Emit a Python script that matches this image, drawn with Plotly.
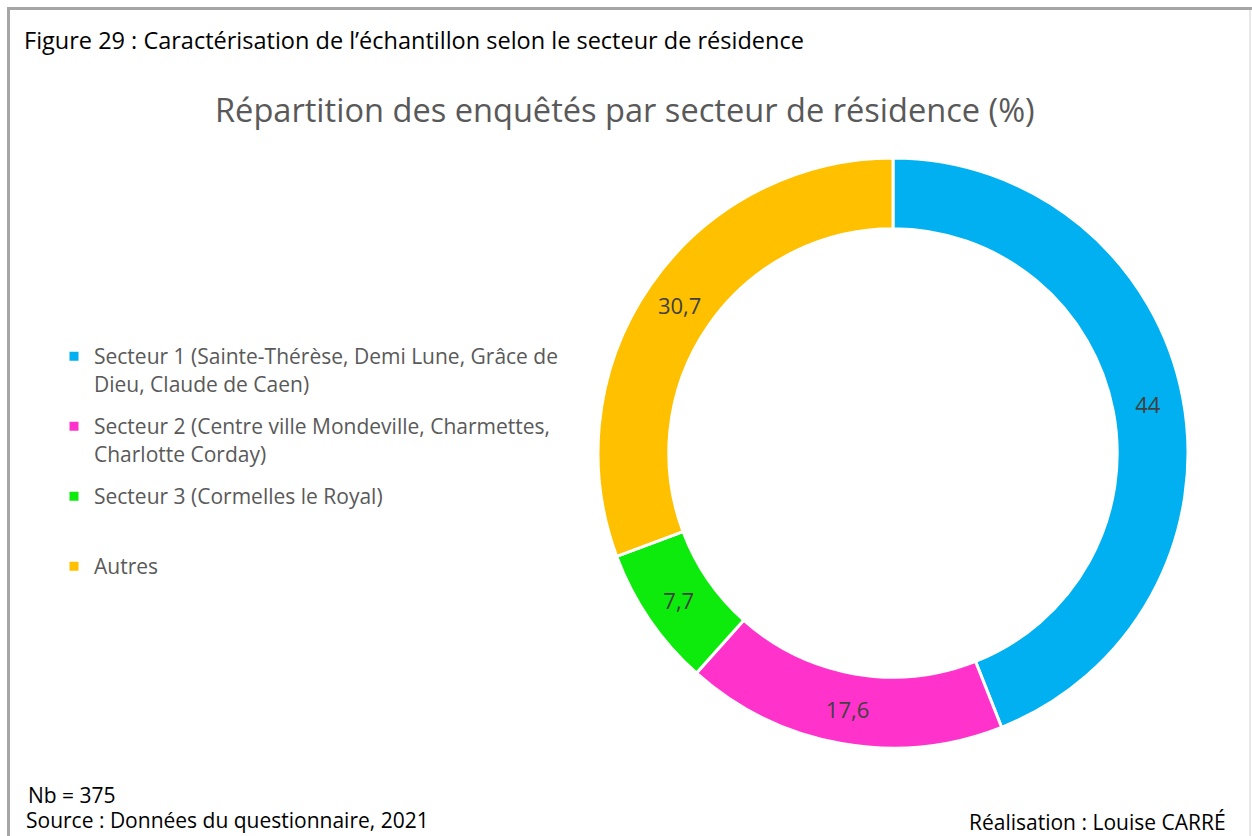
import plotly.graph_objects as go

categories = [
    "Secteur 1 (Sainte-Thérèse, Demi Lune, Grâce de<br>Dieu, Claude de Caen)",
    "Secteur 2 (Centre ville Mondeville, Charmettes,<br>Charlotte Corday)",
    "Secteur 3 (Cormelles le Royal)",
    "Autres",
]
values = [44, 17.6, 7.7, 30.7]
colors = ["#00B0F0", "#FF33CC", "#0DEB0D", "#FFC000"]

W, H = 1252, 836
FONT = "'Open Sans', sans-serif"
LEG_SIZE = 21

# every legend entry uses 2 text lines so the entries are evenly spaced
legend_labels = []
for c in categories:
    lines = c.split("<br>")
    lines += [" "] * (2 - len(lines))
    legend_labels.append("<br>".join(lines))

fig = go.Figure(
    go.Pie(
        labels=legend_labels,
        values=values,
        sort=False,
        direction="clockwise",
        rotation=0,
        hole=0.76,
        marker=dict(colors=colors, line=dict(color="white", width=3)),
        textinfo="value",
        textposition="inside",
        insidetextorientation="horizontal",
        textfont=dict(family=FONT, size=22, color="#404040"),
        domain=dict(x=[598 / W, 1188 / W], y=[1 - 748 / H, 1 - 158 / H]),
        showlegend=True,
        hoverinfo="label+value",
    )
)
# empty, invisible legend spacer: enables per-entry gaps in a "grouped" legend
fig.add_trace(go.Scatter(x=[None], y=[None], mode="markers", name=" ",
                         marker=dict(color="rgba(0,0,0,0)", size=1, opacity=0,
                                     line=dict(width=0, color="rgba(0,0,0,0)")),
                         legendgroup="spacer", showlegend=True, hoverinfo="skip"))

fig.update_layout(
    width=W,
    height=H,
    margin=dict(l=0, r=0, t=0, b=0),
    paper_bgcolor="white",
    plot_bgcolor="white",
    separators=", ",
    font=dict(family=FONT, color="#595959"),
    xaxis=dict(visible=False),
    yaxis=dict(visible=False),
    legend=dict(
        x=54 / W,
        y=1 - 336 / H,
        xanchor="left",
        yanchor="top",
        valign="top",
        traceorder="grouped",
        tracegroupgap=12.4,
        font=dict(family=FONT, size=LEG_SIZE, color="#595959"),
        bgcolor="rgba(0,0,0,0)",
    ),
    shapes=[
        dict(type="line", xref="paper", yref="paper", x0=7 / W, x1=1, y0=1 - 8.5 / H, y1=1 - 8.5 / H,
             line=dict(color="#A6A6A6", width=3)),
        dict(type="line", xref="paper", yref="paper", x0=8.5 / W, x1=8.5 / W, y0=0, y1=1 - 7 / H,
             line=dict(color="#A6A6A6", width=3)),
        dict(type="line", xref="paper", yref="paper", x0=1250 / W, x1=1250 / W, y0=0, y1=1 - 10 / H,
             line=dict(color="#D0D0D0", width=1)),
    ],
    annotations=[
        dict(text="Figure 29 : Caractérisation de l’échantillon selon le secteur de résidence",
             x=22 / W, y=1 - 40 / H, xref="paper", yref="paper", xanchor="left", yanchor="middle",
             showarrow=False, font=dict(family=FONT, size=23.5, color="#000000")),
        dict(text="Répartition des enquêtés par secteur de résidence (%)",
             x=625 / W, y=1 - 110 / H, xref="paper", yref="paper", xanchor="center", yanchor="middle",
             showarrow=False, font=dict(family=FONT, size=32.6, color="#595959")),
        dict(text="Nb = 375",
             x=26 / W, y=1 - 795 / H, xref="paper", yref="paper", xanchor="left", yanchor="middle",
             showarrow=False, font=dict(family=FONT, size=21, color="#000000")),
        dict(text="Source : Données du questionnaire, 2021",
             x=24 / W, y=1 - 820 / H, xref="paper", yref="paper", xanchor="left", yanchor="middle",
             showarrow=False, font=dict(family=FONT, size=21, color="#000000")),
        dict(text="Réalisation : Louise CARRÉ",
             x=1228 / W, y=1 - 822 / H, xref="paper", yref="paper", xanchor="right", yanchor="middle",
             showarrow=False, font=dict(family=FONT, size=21, color="#000000")),
    ],
)

fig.write_html(
    "out.html",
    config={"displayModeBar": False},
    post_script="document.body.style.margin='0';document.body.style.overflow='hidden';",
)
